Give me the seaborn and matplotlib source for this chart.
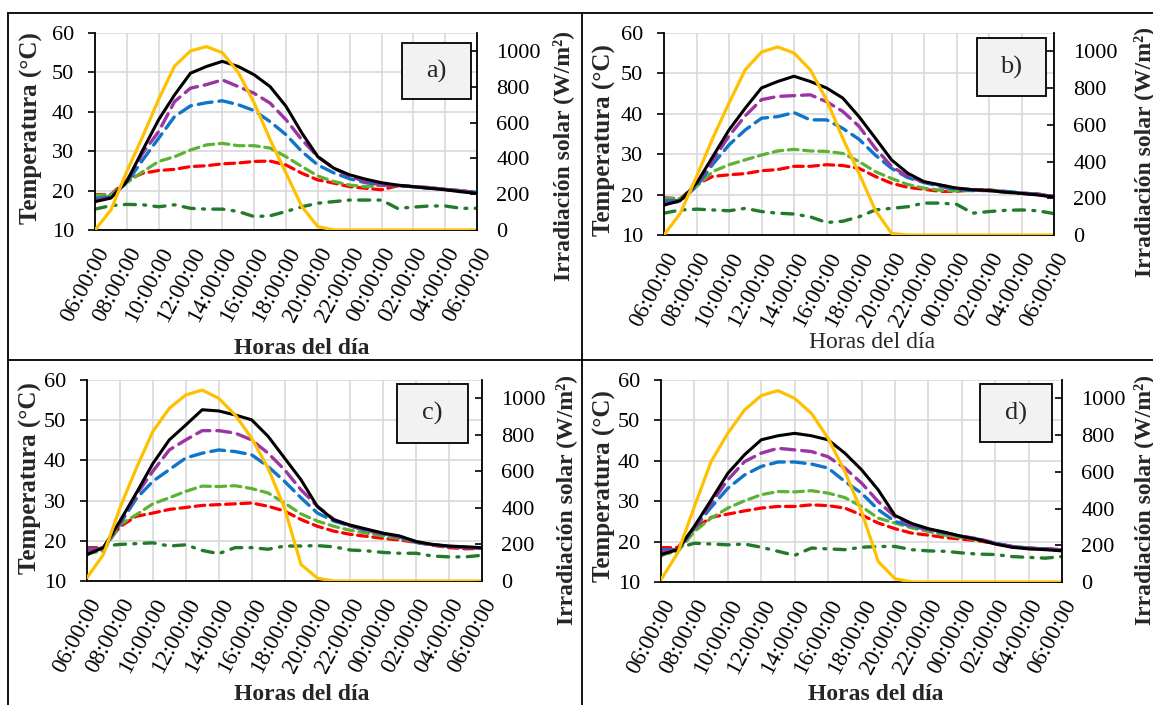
import matplotlib
matplotlib.use("Agg")
import matplotlib.pyplot as plt
from matplotlib.patches import Rectangle
from matplotlib.lines import Line2D
import seaborn as sns

# === 0. Canvas size (pixels) ===
W, H = 1153, 705

# === 1. Data: hours after 06:00 ===
HOURS = list(range(25))
TICK_POS = list(range(0, 25, 2))
TICK_LABELS = ["06:00:00", "08:00:00", "10:00:00", "12:00:00", "14:00:00",
               "16:00:00", "18:00:00", "20:00:00", "22:00:00", "00:00:00",
               "02:00:00", "04:00:00", "06:00:00"]
PANEL_TAGS = ["a)", "b)", "c)", "d)"]

A_BLACK = [17.2, 18.1, 22.3, 30.3, 38.0, 44.3, 49.8, 51.5, 52.8, 51.5, 49.4, 46.4, 41.4,
           34.6, 28.6, 25.7, 24.0, 22.9, 22.0, 21.4, 21.0, 20.6, 20.2, 19.7, 19.3]
A_PURPLE = [17.5, 18.3, 22.5, 29.5, 35.0, 42.6, 46.0, 46.9, 48.1, 46.4, 44.7, 42.2, 38.0,
            32.9, 28.6, 25.7, 23.6, 22.3, 21.4, 21.3, 21.0, 20.6, 20.3, 19.9, 19.4]
A_BLUE = [18.0, 18.5, 22.0, 27.8, 33.3, 38.8, 41.5, 42.3, 42.8, 41.8, 40.3, 37.5, 34.2,
          29.9, 26.5, 24.5, 23.0, 22.0, 21.5, 21.3, 21.0, 20.7, 20.3, 19.9, 19.5]
A_GREEN = [18.8, 19.0, 22.0, 24.8, 27.4, 28.6, 30.3, 31.6, 32.0, 31.4, 31.4, 30.8, 28.6,
           26.1, 23.7, 22.3, 21.4, 21.0, 21.3, 21.3, 21.0, 20.6, 20.3, 20.0, 19.5]
A_RED = [19.0, 19.0, 22.7, 24.4, 25.1, 25.4, 26.1, 26.3, 26.8, 27.0, 27.4, 27.5, 26.5,
         24.4, 22.7, 21.9, 21.0, 20.6, 20.2, 21.2, 21.0, 20.8, 20.3, 20.0, 19.5]
A_DKGREEN = [15.3, 16.2, 16.5, 16.4, 15.9, 16.4, 15.5, 15.3, 15.3, 14.7, 13.4, 13.6, 14.7,
             15.9, 16.8, 17.2, 17.6, 17.6, 17.6, 15.5, 15.8, 16.1, 16.1, 15.5, 15.5]
A_IRR = [0, 112, 327, 523, 730, 915, 1000, 1024, 990, 880, 710, 505, 318,
         130, 19, 0, 0, 0, 0, 0, 0, 0, 0, 0, 0]

B_BLACK = [17.4, 18.5, 22.8, 29.4, 36.0, 41.4, 46.4, 48.0, 49.3, 48.0, 46.4, 43.9, 39.3,
           34.0, 28.6, 25.3, 23.2, 22.4, 21.6, 21.2, 21.0, 20.6, 20.3, 19.9, 19.4]
B_PURPLE = [17.8, 18.3, 22.5, 28.5, 34.5, 39.5, 43.5, 44.3, 44.5, 44.7, 43.0, 40.6, 36.9,
            31.5, 27.0, 24.5, 23.1, 22.3, 21.6, 21.2, 21.0, 20.6, 20.3, 20.0, 19.5]
B_BLUE = [18.5, 18.5, 22.0, 27.5, 32.3, 36.0, 38.9, 39.3, 40.3, 38.5, 38.5, 36.4, 33.7,
          29.8, 26.5, 24.2, 23.0, 22.0, 21.3, 21.0, 21.0, 20.8, 20.4, 20.1, 19.5]
B_GREEN = [19.0, 19.0, 22.0, 25.7, 27.4, 28.6, 29.8, 30.8, 31.2, 30.8, 30.7, 30.2, 28.2,
           25.7, 24.0, 22.5, 21.6, 21.1, 20.9, 21.0, 21.1, 20.8, 20.4, 20.1, 19.5]
B_RED = [19.2, 19.0, 22.5, 24.5, 24.9, 25.2, 25.9, 26.2, 27.0, 27.0, 27.4, 27.2, 26.5,
         24.5, 22.8, 21.8, 21.3, 20.8, 20.8, 21.2, 21.2, 20.7, 20.3, 20.2, 19.5]
B_DKGREEN = [15.4, 16.2, 16.4, 16.2, 16.0, 16.6, 15.8, 15.4, 15.2, 14.5, 13.1, 13.4, 14.5,
             16.2, 16.6, 17.0, 17.9, 17.9, 17.6, 15.4, 15.8, 16.1, 16.2, 16.0, 15.3]
B_IRR = [0, 118, 318, 527, 718, 900, 996, 1024, 991, 900, 736, 527, 336,
         136, 9, 0, 0, 0, 0, 0, 0, 0, 0, 0, 0]

C_BLACK = [16.6, 18.3, 24.9, 31.9, 39.2, 45.1, 48.8, 52.6, 52.3, 51.3, 50.1, 46.0, 40.6,
           35.2, 28.5, 25.2, 23.9, 22.9, 21.9, 21.2, 19.8, 19.1, 18.7, 18.5, 18.3]
C_PURPLE = [17.5, 18.3, 24.5, 31.5, 37.3, 42.6, 45.1, 47.4, 47.4, 46.8, 45.1, 41.8, 37.7,
            32.7, 28.6, 25.3, 23.7, 22.6, 21.8, 21.0, 19.8, 19.0, 18.6, 18.4, 18.2]
C_BLUE = [18.0, 18.0, 24.2, 30.5, 34.8, 37.7, 40.6, 41.8, 42.6, 42.2, 41.4, 38.5, 34.8,
          30.7, 26.9, 24.9, 23.7, 22.5, 21.7, 20.9, 19.6, 19.0, 18.6, 18.3, 18.2]
C_GREEN = [16.8, 17.5, 24.0, 26.5, 29.2, 30.7, 32.3, 33.6, 33.5, 33.7, 33.0, 31.9, 29.4,
           26.7, 24.9, 23.6, 22.6, 21.9, 21.2, 20.6, 19.7, 19.0, 18.6, 18.4, 18.2]
C_RED = [18.3, 18.3, 23.5, 26.1, 26.9, 27.8, 28.3, 28.8, 29.0, 29.2, 29.4, 28.6, 27.4,
         25.3, 23.6, 22.4, 21.6, 21.1, 20.6, 20.2, 19.6, 18.9, 18.3, 18.0, 18.1]
C_DKGREEN = [16.5, 18.7, 19.1, 19.3, 19.5, 18.7, 19.0, 17.6, 16.8, 18.3, 18.3, 17.9, 18.7,
             18.7, 18.8, 18.5, 17.7, 17.5, 17.1, 16.9, 16.9, 16.2, 16.0, 16.0, 16.4]
C_IRR = [18, 145, 400, 618, 818, 945, 1018, 1045, 1000, 909, 782, 618, 400,
         91, 15, 0, 0, 0, 0, 0, 0, 0, 0, 0, 0]

D_BLACK = [16.8, 18.0, 23.8, 30.3, 36.9, 41.5, 45.2, 46.2, 46.8, 46.2, 45.2, 41.9, 37.8,
           32.8, 26.5, 24.5, 23.2, 22.3, 21.3, 20.5, 19.4, 18.6, 18.2, 18.0, 17.7]
D_PURPLE = [17.5, 18.0, 23.5, 29.5, 35.3, 39.8, 41.9, 43.1, 42.7, 42.3, 41.0, 38.2, 34.5,
            29.9, 26.2, 24.0, 23.0, 22.2, 21.3, 20.7, 19.6, 18.8, 18.4, 18.2, 18.0]
D_BLUE = [18.0, 18.0, 23.3, 28.5, 33.2, 36.5, 38.6, 39.7, 39.7, 39.2, 38.2, 34.9, 32.0,
          27.9, 25.0, 23.8, 23.0, 22.1, 21.3, 20.6, 19.6, 18.8, 18.4, 18.2, 18.0]
D_GREEN = [16.8, 17.5, 22.5, 25.8, 28.3, 30.1, 31.6, 32.4, 32.3, 32.6, 32.0, 30.9, 28.7,
           25.8, 24.6, 23.4, 22.5, 21.6, 21.0, 20.4, 19.5, 18.8, 18.4, 18.2, 18.0]
D_RED = [18.5, 18.5, 23.2, 26.0, 26.8, 27.6, 28.3, 28.7, 28.7, 29.1, 28.9, 28.3, 26.6,
         24.6, 23.2, 22.1, 21.6, 21.0, 20.6, 20.2, 19.5, 18.7, 18.3, 18.1, 18.0]
D_DKGREEN = [16.5, 18.4, 19.6, 19.4, 19.2, 19.4, 18.6, 17.6, 16.6, 18.4, 18.2, 18.0, 18.6,
             18.8, 18.8, 18.0, 17.7, 17.6, 17.2, 16.9, 16.8, 16.3, 16.1, 15.9, 16.3]
D_IRR = [13, 158, 411, 656, 810, 937, 1015, 1042, 1000, 919, 783, 602, 384,
         112, 18, 0, 0, 0, 0, 0, 0, 0, 0, 0, 0]

# === 2. Styles (drawing order: back to front) ===
TEMP_COLORS = ["#237A2B", "#FF0000", "#5DB234", "#0F75C9", "#9A35A2", "#000000"]
TEMP_STYLES = [(0, (8, 6, 1.4, 6)), (0, (7, 4)), (0, (7, 4)),
               (0, (10, 5)), (0, (10, 5)), "-"]
TEMP_WIDTHS = [2.4, 2.3, 2.3, 2.4, 2.4, 2.2]
IRR_COLOR = "#FFC000"

# panel geometry in pixels: left, top, right, bottom of the plot area
AX_BOXES = [(95, 33, 477, 230), (664, 33, 1054, 235),
            (87, 380, 482, 581), (661, 380, 1062, 582)]
TAG_BOXES = [(402, 43, 471, 99), (977, 38, 1046, 96),
             (397, 384, 468, 443), (980, 384, 1052, 442)]
XLABEL_POS = [(302, 348), (872, 343), (302, 695), (876, 695)]
XLABEL_BOLD = [True, False, True, True]
YLABEL_POS = [(31, 128), (604, 140), (30, 478), (604, 486)]
Y2LABEL_POS = [(563, 156), (1144, 152), (566, 500), (1144, 500)]

sns.set_style("white")
plt.rcParams['font.family'] = ['Liberation Serif', 'DejaVu Serif']
plt.rcParams['lines.scale_dashes'] = False
plt.rcParams['lines.solid_capstyle'] = 'round'
plt.rcParams['lines.dash_capstyle'] = 'round'


def fx(x):
    return x / W


def fy(y):
    return 1 - y / H


fig = plt.figure(figsize=(W / 100, H / 100), dpi=100)

temps = [
    [A_DKGREEN, A_RED, A_GREEN, A_BLUE, A_PURPLE, A_BLACK],
    [B_DKGREEN, B_RED, B_GREEN, B_BLUE, B_PURPLE, B_BLACK],
    [C_DKGREEN, C_RED, C_GREEN, C_BLUE, C_PURPLE, C_BLACK],
    [D_DKGREEN, D_RED, D_GREEN, D_BLUE, D_PURPLE, D_BLACK],
]
irrs = [A_IRR, B_IRR, C_IRR, D_IRR]

for i in range(4):
    l, t, r, b = AX_BOXES[i]
    ax = fig.add_axes([fx(l), fy(b), (r - l) / W, (b - t) / H])
    for vals, col, ls, lw in zip(temps[i], TEMP_COLORS, TEMP_STYLES, TEMP_WIDTHS):
        sns.lineplot(x=HOURS, y=vals, ax=ax, color=col, linestyle=ls, linewidth=lw)
    ax.set_xlim(0, 24)
    ax.set_ylim(10, 60)
    ax.set_yticks(range(10, 61, 10))
    ax.set_xticks(TICK_POS)
    ax.set_xticklabels(TICK_LABELS, rotation=62, ha='right', va='top',
                       rotation_mode='anchor')
    ax.grid(True, color="#d9d9d9", linewidth=1.2)
    ax.set_axisbelow(True)
    ax.tick_params(axis='y', direction='out', length=5, width=1.2, pad=10,
                   labelsize=16, colors='black')
    ax.tick_params(axis='x', direction='in', length=5, width=1.2, pad=10,
                   labelsize=16.5, colors='black')
    for side in ['top', 'right']:
        ax.spines[side].set_visible(False)
    for side in ['left', 'bottom']:
        ax.spines[side].set_color('black')
        ax.spines[side].set_linewidth(1.3)

    ax2 = ax.twinx()
    sns.lineplot(x=HOURS, y=irrs[i], ax=ax2, color=IRR_COLOR, linewidth=2.3)
    ax2.set_ylim(0, 1100)
    ax2.set_xlim(0, 24)
    ax2.set_yticks(range(0, 1001, 200))
    ax2.tick_params(axis='y', direction='in', length=5, width=1.2, pad=14,
                    labelsize=16, colors='black')
    for side in ['top', 'left', 'bottom']:
        ax2.spines[side].set_visible(False)
    ax2.spines['right'].set_color('black')
    ax2.spines['right'].set_linewidth(1.3)
    ax.set_ylabel("")
    ax2.set_ylabel("")

    # panel tag box
    bl, bt, br, bb = TAG_BOXES[i]
    fig.add_artist(Rectangle((fx(bl), fy(bb)), (br - bl) / W, (bb - bt) / H,
                             transform=fig.transFigure, facecolor="#f2f2f2",
                             edgecolor="black", linewidth=1.3, zorder=5))
    fig.text(fx((bl + br) / 2), fy((bt + bb) / 2), PANEL_TAGS[i], fontsize=19,
             ha='center', va='center', zorder=6)

    # axis titles
    xx, yy = XLABEL_POS[i]
    fig.text(fx(xx), fy(yy), "Horas del día", fontsize=17, ha='center', va='center',
             fontweight='bold' if XLABEL_BOLD[i] else 'normal')
    xx, yy = YLABEL_POS[i]
    fig.text(fx(xx), fy(yy), "Temperatura (°C)", fontsize=18, ha='center', va='center',
             rotation=90, fontweight='bold')
    xx, yy = Y2LABEL_POS[i]
    fig.text(fx(xx), fy(yy), "Irradiación solar (W/m²)", fontsize=17, ha='center',
             va='center', rotation=90, fontweight='bold')

# === 3. Table frame around the four panels ===
frame = [((8, 1153), (13, 13)), ((8, 8), (13, 705)),
         ((582, 582), (13, 705)), ((8, 1153), (360, 360))]
for xs, ys in frame:
    fig.add_artist(Line2D([fx(xs[0]), fx(xs[1])], [fy(ys[0]), fy(ys[1])],
                          transform=fig.transFigure, color='black', linewidth=1.3))

fig.savefig("out.png", dpi=100)
plt.close(fig)
